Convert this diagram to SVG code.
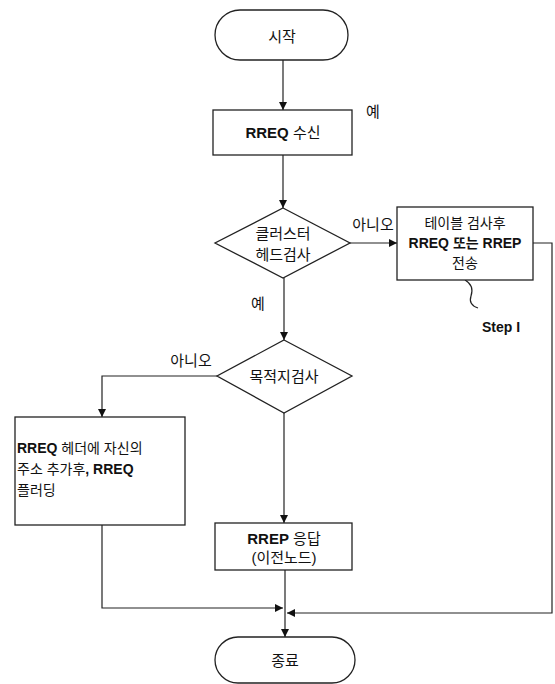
<svg xmlns="http://www.w3.org/2000/svg" width="555" height="684" viewBox="0 0 555 684">
<style>
.shape{fill:#ffffff;stroke:#222;stroke-width:1.3}
.line{fill:none;stroke:#222;stroke-width:1.2}
text{font-family:"Liberation Sans","Noto Sans CJK KR",sans-serif;font-size:15px;fill:#111}
.c{text-anchor:middle;dominant-baseline:central}
.l{dominant-baseline:central}
.b{font-weight:bold}
.s{font-size:14px}
</style>
<defs>
<marker id="arr" viewBox="0 0 10 10" refX="10" refY="5" markerWidth="8" markerHeight="8" markerUnits="userSpaceOnUse" orient="auto">
<path d="M0,0 L10,5 L0,10 z" fill="#111"/>
</marker>
</defs>
<rect width="555" height="684" fill="#ffffff"/>
<g id="connectors">
<path class="line" d="M283,60 V110" marker-end="url(#arr)"/>
<path class="line" d="M283,155 V208" marker-end="url(#arr)"/>
<path class="line" d="M350,243 H397" marker-end="url(#arr)"/>
<path class="line" d="M284,278 V340" marker-end="url(#arr)"/>
<path class="line" d="M217,376 H102 V417" marker-end="url(#arr)"/>
<path class="line" d="M284,413 V523" marker-end="url(#arr)"/>
<path class="line" d="M533,243 H552 V613 H287" marker-end="url(#arr)"/>
<path class="line" d="M102,525 V608 H283" marker-end="url(#arr)"/>
<path class="line" d="M285,570 V637" marker-end="url(#arr)"/>
<path class="line" d="M465,280 C472,284 473,290 471,296 C469,302 472,306 478,308"/>
<text class="c" x="373" y="111">예</text>
<text class="c" x="373" y="224">아니오</text>
<text class="c" x="258" y="303">예</text>
<text class="c" x="191" y="360">아니오</text>
<text class="c b s" x="501" y="327">Step I</text>
</g>
<g id="start">
<rect class="shape" x="215" y="10" width="133" height="50" rx="25" ry="25"/>
<text class="c" x="282" y="36">시작</text>
</g>
<g id="rreq-recv">
<rect class="shape" x="213" y="110" width="139" height="45"/>
<text class="c" x="283" y="132"><tspan class="b">RREQ</tspan> 수신</text>
</g>
<g id="cluster-head-check">
<polygon class="shape" points="283,208 350,243 283,278 215,243"/>
<text class="c" x="283" y="233">클러스터</text>
<text class="c" x="283" y="254">헤드검사</text>
</g>
<g id="table-check">
<rect class="shape" x="397" y="207" width="136" height="73"/>
<text class="c s" x="465" y="223">테이블 검사후</text>
<text class="c s b" x="465" y="243">RREQ 또는 RREP</text>
<text class="c s" x="465" y="263">전송</text>
</g>
<g id="dest-check">
<polygon class="shape" points="284,340 352,376 284,413 217,376"/>
<text class="c" x="284" y="376">목적지검사</text>
</g>
<g id="flooding">
<rect class="shape" x="15" y="417" width="170" height="108"/>
<text class="l s" x="17" y="448"><tspan class="b">RREQ</tspan> 헤더에 자신의</text>
<text class="l s" x="17" y="469">주소 추가후<tspan class="b">, RREQ</tspan></text>
<text class="l s" x="17" y="490">플러딩</text>
</g>
<g id="rrep-reply">
<rect class="shape" x="215" y="523" width="137" height="47"/>
<text class="c" x="284" y="538"><tspan class="b">RREP</tspan> 응답</text>
<text class="c" x="284" y="557">(이전노드)</text>
</g>
<g id="end">
<rect class="shape" x="215" y="637" width="140" height="46" rx="23" ry="23"/>
<text class="c" x="285" y="660">종료</text>
</g>
</svg>
